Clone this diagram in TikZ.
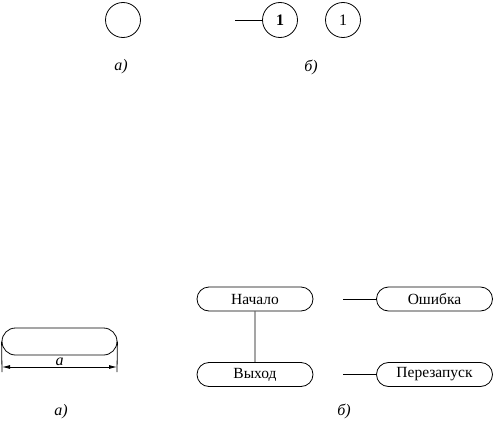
\documentclass[tikz,border=0pt]{standalone}
\usepackage{fontspec}
\setmainfont{Liberation Serif}
\usetikzlibrary{shapes.misc,arrows.meta}

\begin{document}
\begin{tikzpicture}[x=1pt,y=-1pt,>={Latex[length=8pt,width=4pt]},line width=0.8pt]
  \tikzset{
    state/.style={draw,circle,minimum size=35pt,inner sep=0pt,font=\fontsize{16}{18}\selectfont},
    term/.style={draw,rounded rectangle,minimum width=116pt,minimum height=24pt,inner sep=0pt,font=\fontsize{15.5}{18}\selectfont},
    caption/.style={font=\fontsize{16}{18}\selectfont\itshape}
  }
  \useasboundingbox (0,0) rectangle (493,423);
  % circles
  \node[state] (C) at (123,20) {};
  \node[caption] (La) at (121,67) {а)};
  \coordinate (S) at (235,20);
  \node[state,font=\fontsize{16}{18}\selectfont\bfseries] (N1) at (280,20) {1};
  \node[state] (N2) at (343,20) {1};
  \node[caption] (Lb) at (311,67) {б)};
  \draw (S) -- (N1);
  % terminal with dimension
  \node[term,minimum width=115pt,minimum height=27pt] (T) at (59.5,341.5) {};
  \coordinate (E1) at (2,372);
  \coordinate (E2) at (117,372);
  \coordinate (D1) at (2,367);
  \coordinate (D2) at (117,367);
  \draw (T.west) -- (E1);
  \draw (T.east) -- (E2);
  \draw[<->] (D1) -- node[above=-2pt,caption] (Da) {a} (D2);
  \node[caption] (Lc) at (61,412) {а)};
  % terminals
  \node[term] (Start) at (255,299) {Начало};
  \node[term] (Exit) at (255,374.5) {Выход};
  \node[term] (Err) at (434.5,299) {Ошибка};
  \node[term] (Rst) at (434.5,374.5) {Перезапуск};
  \coordinate (P1) at (343,299);
  \coordinate (P2) at (343,374.5);
  \draw (P1) -- (Err);
  \draw (P2) -- (Rst);
  \draw (Start) -- (Exit);
  \node[caption] (Ld) at (344,411) {б)};
\end{tikzpicture}
\end{document}
